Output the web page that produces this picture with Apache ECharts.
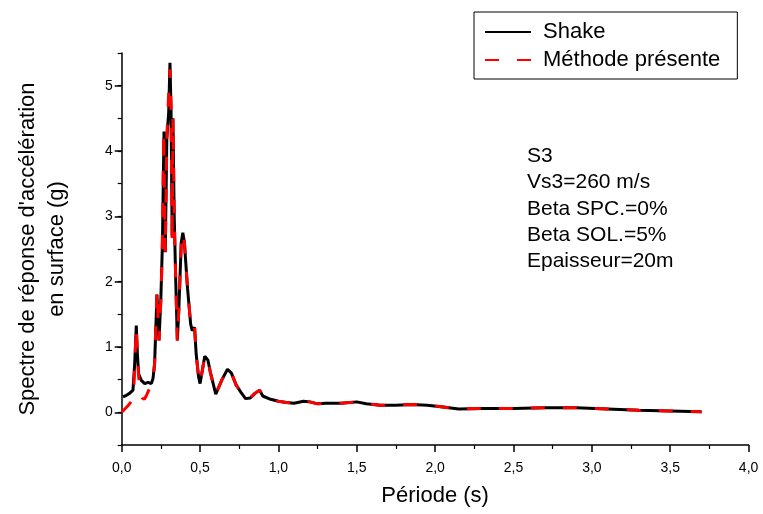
<!DOCTYPE html>
<html>
<head>
<meta charset="utf-8">
<script src="https://cdn.jsdelivr.net/npm/echarts@6/dist/echarts.min.js"></script>
<style>
html,body{margin:0;padding:0;background:#fff;}
#chart{width:763px;height:514px;}
</style>
</head>
<body>
<div id="chart"></div>
<script>
// ---- data ----
var periodShake = [0.008,0.03,0.05,0.06,0.072,0.083,0.093,0.1,0.108,0.125,0.147,0.168,0.179,0.189,0.2,0.21,0.225,0.238,0.25,0.26,0.27,0.278,0.288,0.3,0.308,0.315,0.322,0.327,0.335,0.345,0.355,0.365,0.38,0.39,0.4,0.42,0.44,0.45,0.465,0.475,0.49,0.5,0.53,0.55,0.565,0.6,0.64,0.675,0.7,0.73,0.76,0.79,0.82,0.85,0.88,0.9,0.95,1.0,1.05,1.1,1.16,1.2,1.25,1.3,1.4,1.5,1.56,1.65,1.75,1.85,1.95,2.05,2.15,2.3,2.5,2.7,2.9,3.1,3.3,3.5,3.7];
var accShake    = [0.235,0.26,0.29,0.31,0.34,0.75,1.33,0.9,0.59,0.49,0.44,0.46,0.49,0.44,0.52,0.75,1.8,1.1,1.75,2.6,4.3,2.45,4.2,4.6,5.35,4.6,2.7,4.5,3.0,2.0,1.1,1.6,2.6,2.75,2.6,1.9,1.35,1.25,1.3,0.9,0.55,0.44,0.86,0.8,0.62,0.28,0.5,0.66,0.6,0.42,0.31,0.21,0.22,0.29,0.34,0.25,0.2,0.17,0.15,0.14,0.17,0.16,0.13,0.14,0.14,0.16,0.13,0.11,0.11,0.12,0.11,0.08,0.05,0.06,0.06,0.07,0.07,0.05,0.03,0.02,0.01];
var periodMethod = [0.0,0.02,0.04,0.06,0.075,0.083,0.093,0.1,0.108,0.118,0.13,0.145,0.16,0.175,0.19,0.2,0.21,0.225,0.238,0.25,0.258,0.268,0.278,0.288,0.3,0.308,0.315,0.322,0.327,0.335,0.345,0.355,0.365,0.38,0.39,0.4,0.42,0.44,0.45,0.465,0.475,0.49,0.5,0.53,0.55,0.565,0.6,0.64,0.675,0.7,0.73,0.76,0.79,0.82,0.85,0.88,0.9,0.95,1.0,1.05,1.1,1.16,1.2,1.25,1.3,1.4,1.5,1.56,1.65,1.75,1.85,1.95,2.05,2.15,2.3,2.5,2.7,2.9,3.1,3.3,3.5,3.7];
var accMethod    = [0.0,0.05,0.1,0.16,0.22,0.7,1.3,0.9,0.55,0.3,0.22,0.2,0.27,0.35,0.42,0.5,0.75,1.87,1.1,1.7,2.4,4.3,2.45,4.2,4.9,5.25,4.7,2.6,4.5,3.0,2.0,1.1,1.6,2.6,2.75,2.6,1.9,1.35,1.25,1.3,0.9,0.55,0.44,0.86,0.8,0.62,0.28,0.5,0.66,0.6,0.42,0.31,0.21,0.22,0.29,0.34,0.25,0.2,0.17,0.15,0.14,0.17,0.16,0.13,0.14,0.14,0.16,0.13,0.11,0.11,0.12,0.11,0.08,0.05,0.06,0.06,0.07,0.07,0.05,0.03,0.02,0.01];
var yMajorTicks = [0,1,2,3,4,5];
var seriesNames = ['Shake','Méthode présente'];
var noteLines = ['S3','Vs3=260 m/s','Beta SPC.=0%','Beta SOL.=5%','Epaisseur=20m'];

function pairs(xs, ys){ return xs.map(function(x,i){ return [x, ys[i]]; }); }

var FONT = 'Liberation Sans, Arial, sans-serif';
var chart = echarts.init(document.getElementById('chart'), null, {renderer:'canvas'});
chart.setOption({
  animation:false,
  backgroundColor:'#fff',
  textStyle:{fontFamily:FONT},
  grid:{left:121.7, right:14.4, top:53, bottom:69, containLabel:false},
  legend:{
    orient:'vertical', left:474, top:12,
    padding:[9,17,8,10], itemGap:6,
    itemWidth:46, itemHeight:14,
    borderColor:'#000', borderWidth:1,
    itemStyle:{opacity:0},
    textStyle:{fontSize:22, color:'#000', fontFamily:FONT, lineHeight:20, padding:[0,0,0,7]},
    data:seriesNames
  },
  xAxis:{
    type:'value', min:0, max:4, interval:0.5,
    name:'Période (s)', nameLocation:'middle', nameGap:40,
    nameTextStyle:{fontSize:22, color:'#000', fontFamily:FONT},
    axisLine:{show:true, onZero:false, lineStyle:{color:'#000', width:1.5}},
    axisTick:{show:true, inside:false, length:7, lineStyle:{color:'#000', width:1.5}},
    minorTick:{show:true, splitNumber:2, length:4, lineStyle:{color:'#000', width:1.2}},
    splitLine:{show:false},
    axisLabel:{fontSize:14, color:'#000', margin:16, fontFamily:FONT,
      formatter:function(v){ return v.toFixed(1).replace('.', ','); }}
  },
  yAxis:[{
    type:'value', min:-0.5, max:5.5, interval:0.5,
    name:"Spectre de réponse d'accélération\nen surface (g)", nameLocation:'middle', nameGap:50,
    nameTextStyle:{fontSize:22, color:'#000', lineHeight:29, fontFamily:FONT},
    axisLine:{show:true, onZero:false, lineStyle:{color:'#000', width:1.5}},
    axisTick:{show:true, length:4, lineStyle:{color:'#000', width:1.2}},
    splitLine:{show:false},
    axisLabel:{fontSize:14, color:'#000', margin:9, fontFamily:FONT,
      customValues:yMajorTicks,
      formatter:function(v){ return String(Math.round(v)); }}
  },{
    type:'value', min:-0.5, max:5.5, position:'left', offset:0,
    axisLine:{show:false},
    axisTick:{show:true, length:7, customValues:yMajorTicks, lineStyle:{color:'#000', width:1.5}},
    axisLabel:{show:false},
    splitLine:{show:false}
  }],
  series:[{
    name:seriesNames[0], type:'line', symbol:'none', smooth:false,
    data:pairs(periodShake, accShake),
    lineStyle:{color:'#000', width:3}, itemStyle:{color:'#000'}, z:2
  },{
    name:seriesNames[1], type:'line', symbol:'none', smooth:false,
    data:pairs(periodMethod, accMethod),
    lineStyle:{color:'#ff0000', width:3, type:[14,18]}, itemStyle:{color:'#ff0000'}, z:3
  }],
  graphic:[{
    type:'text', left:527, top:143,
    style:{text:noteLines.join('\n'), fontSize:21, lineHeight:26.3, fill:'#000', fontFamily:FONT}
  }]
});
</script>
</body>
</html>
